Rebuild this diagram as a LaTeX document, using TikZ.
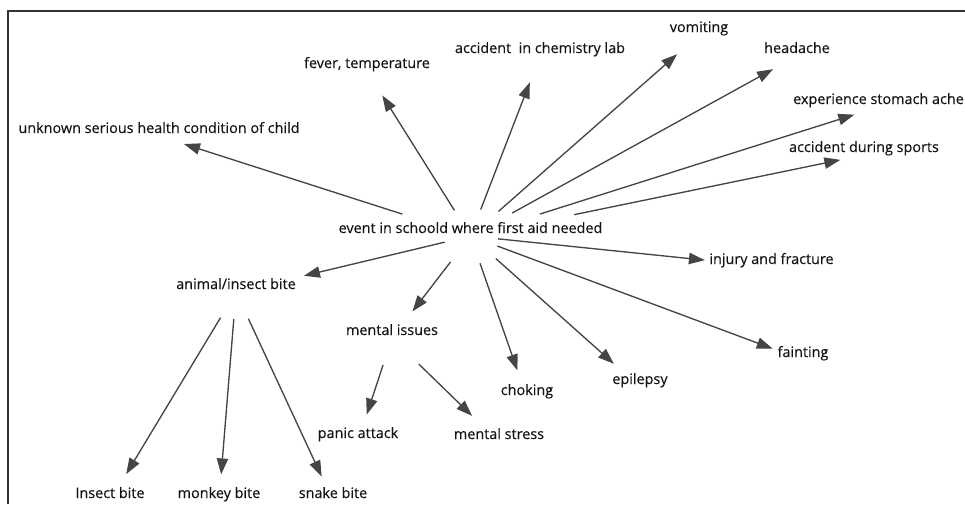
\documentclass[tikz,border=0pt]{standalone}
\usepackage{fontspec}
\setmainfont{Open Sans}[FakeBold=0.3]
\usetikzlibrary{arrows.meta}
\definecolor{linegray}{HTML}{454545}
\definecolor{txt}{HTML}{141414}
\begin{document}
\begin{tikzpicture}[x=0.75pt,y=-0.75pt,
  lbl/.style={inner sep=0pt,text=txt,font=\fontsize{10.8pt}{12pt}\selectfont,text height=9pt,text depth=13.5pt},
  con/.style={draw=linegray,line width=1pt,-{Triangle[length=12pt,width=8.5pt]},fill=linegray}]
\useasboundingbox (0,0) rectangle (965,504);
\draw[line width=0.9pt,draw=black!80] (8,504) -- (8,11) -- (965,11);

\node[lbl] (hub) at (470.5,236) {event in schoold where first aid needed};
\node[lbl] (unknown) at (159,136) {unknown serious health condition of child};
\node[lbl] (fever) at (367,71) {fever, temperature};
\node[lbl] (chem) at (540,56) {accident\ \ in chemistry lab};
\node[lbl] (vomit) at (699,35) {vomiting};
\node[lbl] (head) at (797,56) {headache};
\node[lbl] (stomach) at (878.5,107) {experience stomach ache};
\node[lbl] (sports) at (864,155) {accident during sports};
\node[lbl] (injury) at (771.5,267) {injury and fracture};
\node[lbl] (animal) at (236,292) {animal/insect bite};
\node[lbl] (mental) at (392,338) {mental issues};
\node[lbl] (faint) at (803,360) {fainting};
\node[lbl] (choke) at (527,398) {choking};
\node[lbl] (epil) at (640,387) {epilepsy};
\node[lbl] (panic) at (358,441) {panic attack};
\node[lbl] (stress) at (499,442) {mental stress};
\node[lbl] (insect) at (110,501) {Insect bite};
\node[lbl] (monkey) at (219,501) {monkey bite};
\node[lbl] (snake) at (333,501) {snake bite};

\draw[con,shorten <=53.7pt,shorten >=19.7pt] (hub.center) -- (unknown.center);
\draw[con,shorten <=22.7pt,shorten >=21.6pt] (hub.center) -- (fever.center);
\draw[con,shorten <=21.3pt,shorten >=21.2pt] (hub.center) -- (chem.center);
\draw[con,shorten <=28pt,shorten >=21.8pt] (hub.center) -- (vomit.center);
\draw[con,shorten <=35.6pt,shorten >=20.5pt] (hub.center) -- (head.center);
\draw[con,shorten <=54.5pt,shorten >=19pt] (hub.center) -- (stomach.center);
\draw[con,shorten <=79.4pt,shorten >=18.1pt] (hub.center) -- (sports.center);
\draw[con,shorten <=20.8pt,shorten >=50.2pt] (hub.center) -- (injury.center);
\draw[con,shorten <=21.5pt,shorten >=24.2pt] (hub.center) -- (faint.center);
\draw[con,shorten <=25.4pt,shorten >=26.2pt] (hub.center) -- (epil.center);
\draw[con,shorten <=21.7pt,shorten >=21.9pt] (hub.center) -- (choke.center);
\draw[con,shorten <=24.6pt,shorten >=25.1pt] (hub.center) -- (mental.center);
\draw[con,shorten <=19.8pt,shorten >=52.4pt] (hub.center) -- (animal.center);
\draw[con,shorten <=22.5pt,shorten >=23.5pt] (animal.center) -- (insect.center);
\draw[con,shorten <=20.3pt,shorten >=20pt] (animal.center) -- (monkey.center);
\draw[con,shorten <=22.1pt,shorten >=20.2pt] (animal.center) -- (snake.center);
\draw[con,shorten <=21.3pt,shorten >=20.9pt] (mental.center) -- (panic.center);
\draw[con,shorten <=28.1pt,shorten >=28.1pt] (mental.center) -- (stress.center);
\end{tikzpicture}
\end{document}
